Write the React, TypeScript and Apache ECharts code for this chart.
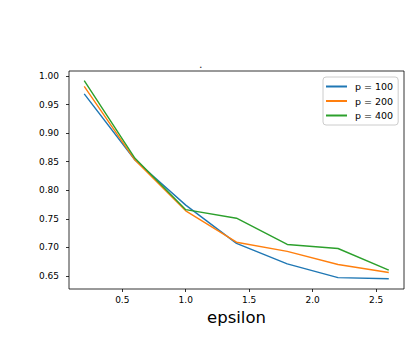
import React, { useEffect, useRef } from "react";
import * as echarts from "echarts";

const epsilon = [0.2, 0.6, 1.0, 1.4, 1.8, 2.2, 2.6];
const p100 = [0.969, 0.853, 0.774, 0.707, 0.671, 0.647, 0.645];
const p200 = [0.982, 0.853, 0.764, 0.709, 0.693, 0.67, 0.656];
const p400 = [0.992, 0.856, 0.766, 0.751, 0.705, 0.698, 0.66];
const seriesNames = ["p = 100", "p = 200", "p = 400"];
const seriesColors = ["#1f77b4", "#ff7f0e", "#2ca02c"];
const xTicks = [0.5, 1.0, 1.5, 2.0, 2.5];
const yTicks = [0.65, 0.7, 0.75, 0.8, 0.85, 0.9, 0.95, 1.0];

const FONT = "DejaVu Sans";

export default function App() {
  const ref = useRef<HTMLDivElement>(null);
  useEffect(() => {
    if (!ref.current) return;
    const chart = echarts.init(ref.current, null, { renderer: "svg" });
    const values = [p100, p200, p400];
    chart.setOption({
      animation: false,
      backgroundColor: "#fff",
      title: {
        text: ".",
        left: 199,
        top: 59,
        padding: 0,
        textStyle: { fontFamily: FONT, fontSize: 11, fontWeight: "normal", color: "#333" },
      },
      legend: {
        orient: "vertical",
        left: 323,
        top: 77,
        padding: [3.5, 5, 3.5, 3],
        itemWidth: 21,
        itemHeight: 2,
        itemGap: 2.5,
        icon: "rect",
        borderColor: "#cccccc",
        borderWidth: 1,
        borderRadius: 3,
        backgroundColor: "rgba(255,255,255,0.8)",
        textStyle: { fontFamily: FONT, fontSize: 9.5, lineHeight: 12, color: "#000", padding: [0, 0, 0, 3] },
        data: seriesNames,
      },
      grid: {
        left: 69,
        right: 7,
        top: 71,
        bottom: 71,
        show: true,
        borderColor: "#000",
        borderWidth: 0.8,
        backgroundColor: "transparent",
      },
      xAxis: {
        type: "value",
        min: 0.08,
        max: 2.72,
        name: "epsilon",
        nameLocation: "middle",
        nameGap: 17,
        nameTextStyle: { fontFamily: FONT, fontSize: 16.5, color: "#000" },
        axisLine: { show: false },
        splitLine: { show: false },
        axisTick: {
          show: true,
          length: 3,
          customValues: xTicks,
          lineStyle: { color: "#000", width: 0.8 },
        },
        axisLabel: {
          customValues: xTicks,
          margin: 6,
          fontFamily: FONT,
          fontSize: 9,
          color: "#000",
          formatter: (v: number) => v.toFixed(1),
        },
      },
      yAxis: {
        type: "value",
        min: 0.627,
        max: 1.009,
        axisLine: { show: false },
        splitLine: { show: false },
        axisTick: {
          show: true,
          length: 3,
          customValues: yTicks,
          lineStyle: { color: "#000", width: 0.8 },
        },
        axisLabel: {
          customValues: yTicks,
          margin: 10,
          fontFamily: FONT,
          fontSize: 9,
          color: "#000",
          formatter: (v: number) => v.toFixed(2),
        },
      },
      series: values.map((vals, i) => ({
        name: seriesNames[i],
        type: "line",
        data: epsilon.map((x, j) => [x, vals[j]]),
        showSymbol: false,
        symbol: "none",
        color: seriesColors[i],
        lineStyle: { color: seriesColors[i], width: 1.4 },
      })),
    });
    return () => chart.dispose();
  }, []);
  return (
    <div
      ref={ref}
      style={{ position: "fixed", left: 0, top: 0, width: 411, height: 360 }}
    />
  );
}
